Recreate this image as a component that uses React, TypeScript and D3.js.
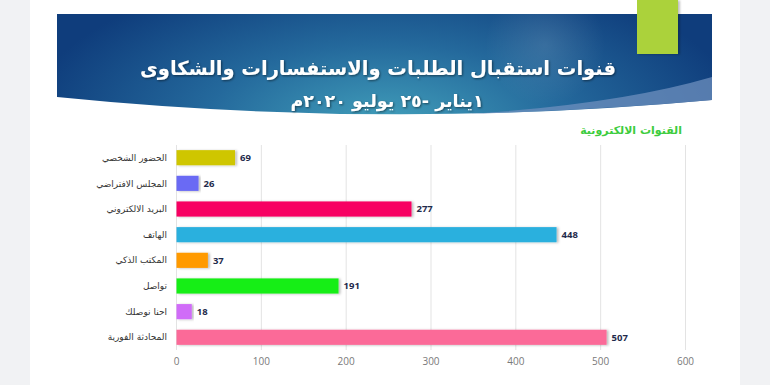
import * as d3 from "d3";

const CATEGORIES = [
  "الحضور الشخصي",
  "المجلس الافتراضي",
  "البريد الالكتروني",
  "الهاتف",
  "المكتب الذكي",
  "تواصل",
  "احنا نوصلك",
  "المحادثة الفورية",
];
const VALUES = [69, 26, 277, 448, 37, 191, 18, 507];
const BAR_COLORS = [
  "#cfc600",
  "#6a6af4",
  "#f70062",
  "#2cb0de",
  "#ff9a00",
  "#12ee12",
  "#d06cf8",
  "#fb6a98",
];
const TICKS = [0, 100, 200, 300, 400, 500, 600];

const TITLE = "قنوات استقبال الطلبات والاستفسارات والشكاوى";
const SUBTITLE = "١يناير -٢٥ يوليو ٢٠٢٠م";
const CHART_LABEL = "القنوات الالكترونية";

const W = 770;
const H = 385;
const ARABIC = "'DejaVu Sans', sans-serif";

export default function App() {
  const x = d3.scaleLinear().domain([0, 600]).range([176.5, 685.5]);
  const y = d3
    .scaleBand<string>()
    .domain(CATEGORIES)
    .range([145, 350])
    .paddingInner(0.41)
    .paddingOuter(0.2);
  const rows = CATEGORIES.map((c, i) => ({ c, v: VALUES[i], color: BAR_COLORS[i] }));

  // note: with direction="rtl", textAnchor "start" pins the right edge
  return (
    <div style={{ position: "absolute", left: 0, top: 0 }}>
      <svg width={W} height={H} viewBox={`0 0 ${W} ${H}`}>
        <defs>
          <radialGradient id="banner" cx="385" cy="125" r="360" gradientUnits="userSpaceOnUse"
            gradientTransform="translate(385 125) scale(1 0.45) translate(-385 -125)">
            <stop offset="0" stopColor="#42a0bb" />
            <stop offset="0.5" stopColor="#24699c" />
            <stop offset="1" stopColor="#0f3d7c" />
          </radialGradient>
          <radialGradient id="glow" cx="545" cy="45" r="60" gradientUnits="userSpaceOnUse">
            <stop offset="0" stopColor="#ffffff" stopOpacity="0.12" />
            <stop offset="1" stopColor="#ffffff" stopOpacity="0" />
          </radialGradient>
          <filter id="shadow" x="-5%" y="-30%" width="115%" height="180%">
            <feDropShadow dx="2" dy="0.5" stdDeviation="1.2" floodColor="#000" floodOpacity="0.25" />
          </filter>
          <filter id="tshadow" x="-5%" y="-20%" width="110%" height="150%">
            <feDropShadow dx="1" dy="1" stdDeviation="0.8" floodColor="#000" floodOpacity="0.5" />
          </filter>
        </defs>

        <rect x={0} y={0} width={W} height={H} fill="#f1f2f4" />
        <rect x={30} y={0} width={710} height={H} fill="#ffffff" />

        <path d="M57,14 H712 V100 Q385,130 57,97 Z" fill="url(#banner)" />
        <path d="M57,14 H712 V100 Q385,130 57,97 Z" fill="url(#glow)" />
        <path d="M712,77 L712,100 Q600,110 470,114 Q620,104 712,77 Z" fill="#6d8fbd" opacity={0.75} />
        <rect x={637} y={0} width={41} height={54} fill="#abd23b" filter="url(#shadow)" />

        <text x={378} y={75} textAnchor="middle" direction="rtl" fill="#ffffff"
          fontFamily={ARABIC} fontWeight="bold" fontSize={19.5} filter="url(#tshadow)">
          {TITLE}
        </text>
        <text x={387} y={107} textAnchor="middle" direction="rtl" fill="#ffffff"
          fontFamily={ARABIC} fontWeight="bold" fontSize={17.5} filter="url(#tshadow)">
          {SUBTITLE}
        </text>

        <text x={682} y={134} textAnchor="start" direction="rtl" fill="#3dcc3d"
          fontFamily={ARABIC} fontWeight="bold" fontSize={11}>
          {CHART_LABEL}
        </text>

        {TICKS.map((t) => (
          <g key={t}>
            <line x1={x(t)} x2={x(t)} y1={145} y2={350} stroke="#e3e3e3" strokeWidth={1} />
            <text x={x(t)} y={365} textAnchor="middle" fill="#7a7a7a"
              fontFamily="'Open Sans', sans-serif" fontSize={10}>
              {t}
            </text>
          </g>
        ))}

        {rows.map((d) => {
          const by = y(d.c) ?? 0;
          const bh = y.bandwidth();
          return (
            <g key={d.c}>
              <rect x={x(0)} y={by} width={x(d.v) - x(0)} height={bh} fill={d.color}
                filter="url(#shadow)" />
              <text x={x(d.v) + 5} y={by + bh / 2} dy="0.35em" fill="#1f2b4c"
                fontFamily="'Open Sans', sans-serif" fontWeight="bold" fontSize={9.5}>
                {d.v}
              </text>
              <text x={167} y={by + bh / 2} dy="0.35em" textAnchor="start" direction="rtl"
                fill="#333333" fontFamily={ARABIC} fontSize={9}>
                {d.c}
              </text>
            </g>
          );
        })}
      </svg>
    </div>
  );
}
